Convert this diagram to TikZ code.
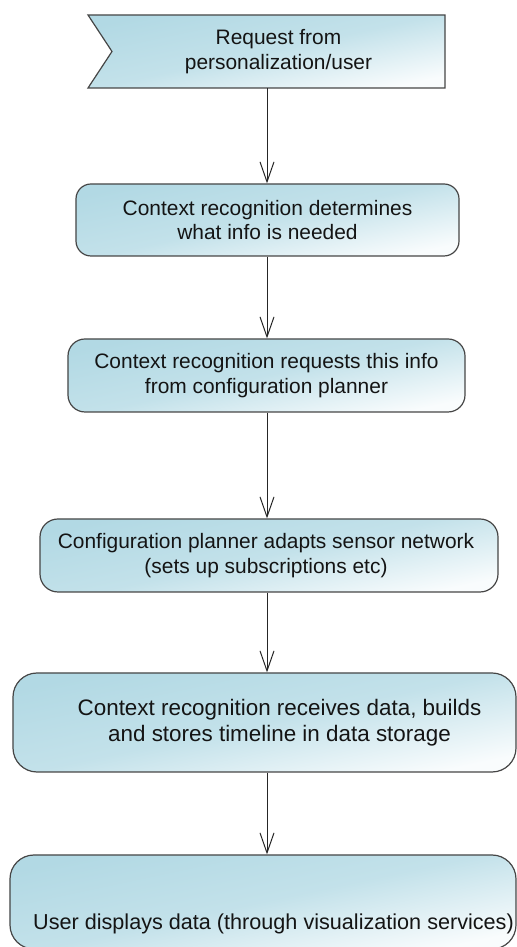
\documentclass[tikz,border=0pt]{standalone}
\usepackage{fontspec}
\setmainfont{Liberation Sans}
\usetikzlibrary{arrows.meta}
\definecolor{boxblue}{RGB}{178,217,228}
\definecolor{boxwhite}{RGB}{249,252,253}
\definecolor{edgegray}{RGB}{70,70,70}
\tikzset{
  boxfill/.style={top color=boxblue, bottom color=boxwhite, middle color=boxblue!78!white, shading angle=12},
  procbox/.style={rectangle, draw=edgegray, line width=1.2bp, boxfill, inner sep=0pt},
  lbl/.style={font=\fontsize{21}{25}\selectfont, align=center, text=black!92, inner sep=0pt},
  arr/.style={draw=black!85, line width=1bp, -{Straight Barb[length=20bp, width=14bp]}},
}
\begin{document}
\begin{tikzpicture}[x=1bp, y=1bp]
\useasboundingbox (0,0) rectangle (517,947);
\clip (0,0) rectangle (517,947);
\coordinate (ax) at (267,0);
% box 1 (flag shape)
\path[boxfill, draw=edgegray, line width=1.2bp]
  (88,932) -- (445,932) -- (445,859) -- (88,859) -- (112,895.5) -- cycle;
\node[lbl, minimum width=333bp, minimum height=73bp] (b1) at (278.5,895.5)
  {Request from\\personalization/user};
% box 2
\node[procbox, rounded corners=15bp, minimum width=383bp, minimum height=72bp] (b2) at (267.5,727) {};
\node[lbl] (t2) at (b2.center) {Context recognition determines\\what info is needed};
% box 3
\node[procbox, rounded corners=17bp, minimum width=397bp, minimum height=73bp] (b3) at (266.5,571.5) {};
\node[lbl] (t3) at (b3.center) {Context recognition requests this info\\from configuration planner};
% box 4
\node[procbox, rounded corners=18bp, minimum width=458bp, minimum height=73bp] (b4) at (269,391.5) {};
\node[lbl] (t4) at (266,391.5) {Configuration planner adapts sensor network\\(sets up subscriptions etc)};
% box 5
\node[procbox, rounded corners=24bp, minimum width=503bp, minimum height=99bp] (b5) at (264.5,224.5) {};
\node[lbl, font=\fontsize{22.5}{26}\selectfont] (t5) at (279.5,224.5) {Context recognition receives data, builds\\and stores timeline in data storage};
% box 6
\node[procbox, rounded corners=24bp, minimum width=506bp, minimum height=94bp] (b6) at (263,45) {};
\node[lbl, font=\fontsize{21.7}{26}\selectfont] (t6) at (273.5,23) {User displays data (through visualization services)};
% connectors
\draw[arr] (b1.south -| ax) -- (b2.north -| ax);
\draw[arr] (b2.south -| ax) -- (b3.north -| ax);
\draw[arr] (b3.south -| ax) -- (b4.north -| ax);
\draw[arr] (b4.south -| ax) -- (b5.north -| ax);
\draw[arr] (b5.south -| ax) -- (b6.north -| ax);
\end{tikzpicture}
\end{document}
